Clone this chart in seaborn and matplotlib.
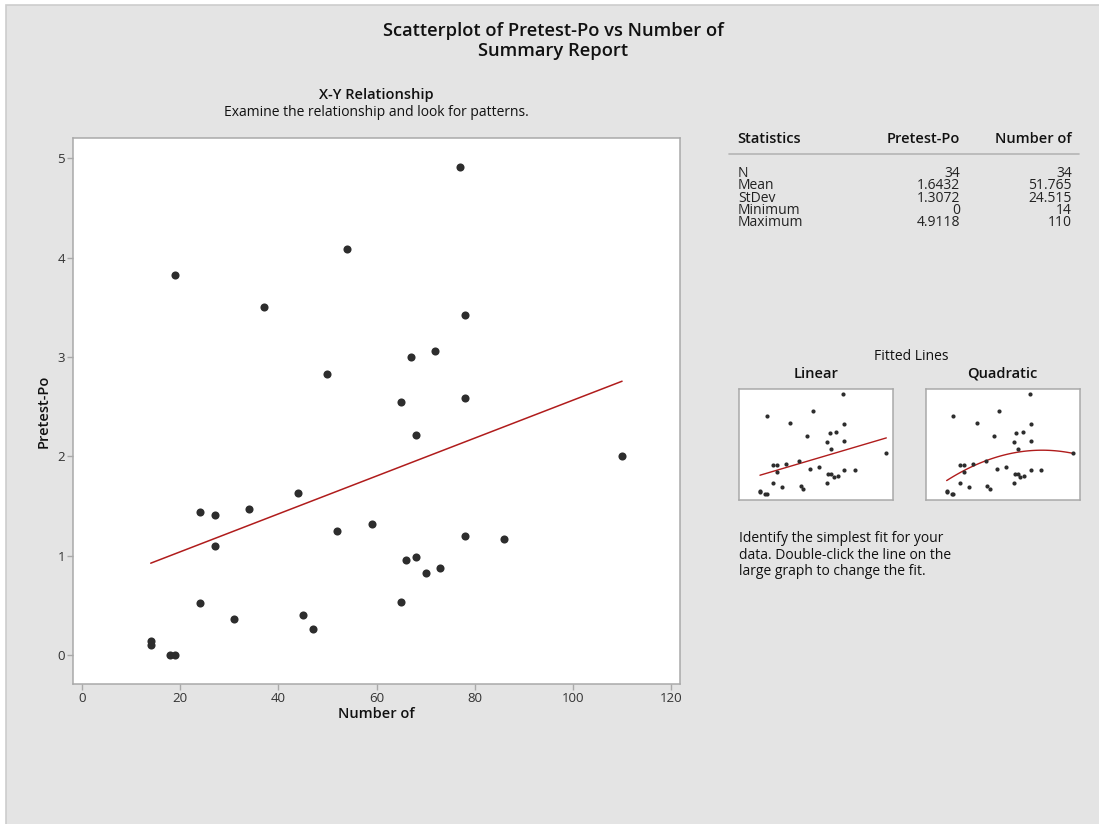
import matplotlib
matplotlib.use("Agg")
import matplotlib.pyplot as plt
import numpy as np
import pandas as pd
import seaborn as sns
from matplotlib.patches import Rectangle
from matplotlib.lines import Line2D

# Observations (34 subjects)
number_of = [19, 37, 54, 50, 77, 78, 67, 72, 65, 78,
             14, 14, 18, 19, 24, 27, 27, 24, 31, 34,
             44, 45, 47, 52, 59, 68, 110, 78, 86, 66,
             68, 70, 73, 65]
pretest_po = [3.82, 3.50, 4.09, 2.83, 4.9118, 3.42, 3.00, 3.06, 2.545, 2.585,
              0.147, 0.10, 0.0, 0.0, 1.445, 1.41, 1.097, 0.52, 0.365, 1.47,
              1.63, 0.40, 0.268, 1.247, 1.32, 2.216, 2.005, 1.197, 1.167, 0.962,
              0.992, 0.825, 0.875, 0.53]

# Descriptive statistics table
stat_names = ["N", "Mean", "StDev", "Minimum", "Maximum"]
pretest_stats = ["34", "1.6432", "1.3072", "0", "4.9118"]
number_stats = ["34", "51.765", "24.515", "14", "110"]

x_ticks = [0, 20, 40, 60, 80, 100, 120]
y_ticks = [0, 1, 2, 3, 4, 5]

df = pd.DataFrame({"Number of": number_of, "Pretest-Po": pretest_po})

sns.set_theme(style="white")
plt.rcParams["font.family"] = ["Open Sans", "DejaVu Sans"]

W, H = 1099, 824
fig = plt.figure(figsize=(W / 100, H / 100), dpi=100, facecolor="white")


def fx(x):
    return x / W


def fy(y):
    return 1 - y / H


# report panel background (framed on the left and top edges)
fig.patches.append(Rectangle((fx(6), -0.05), 1.0, fy(5) + 0.05, transform=fig.transFigure,
                             facecolor="#e4e4e4", edgecolor="#cdcdcd", lw=1.2, zorder=-10))

DOT = "#2d2d2d"
FIT = "#b01c1c"
SPINE = "#a9a9a9"
TXT = "#111111"


def style_box(ax):
    ax.set_facecolor("white")
    for sp in ax.spines.values():
        sp.set_color(SPINE)
        sp.set_linewidth(1.1)


# ---- main scatterplot ----
ax = fig.add_axes([fx(73.3), fy(684), fx(680) - fx(73.3), fy(138.3) - fy(684)])
style_box(ax)
sns.scatterplot(data=df, x="Number of", y="Pretest-Po", ax=ax, color=DOT,
                s=34, linewidth=0, zorder=3)
sns.regplot(data=df, x="Number of", y="Pretest-Po", ax=ax, scatter=False, ci=None,
            truncate=True, line_kws=dict(color=FIT, lw=1.1))
ax.set_xlim(-1.77, 121.8)
ax.set_ylim(-0.29, 5.2)
ax.set_xticks(x_ticks)
ax.set_yticks(y_ticks)
ax.tick_params(axis="both", direction="out", length=4, width=1, color=SPINE,
               labelcolor="#333333", labelsize=9.5, pad=2, bottom=True, left=True)
ax.set_xlabel("Number of", fontsize=10.5, fontweight="semibold", color=TXT, labelpad=1.5)
ax.set_ylabel("Pretest-Po", fontsize=10.5, fontweight="semibold", color=TXT, labelpad=5)

# ---- titles ----
fig.text(fx(553.5), fy(31), "Scatterplot of Pretest-Po vs Number of", ha="center", va="center",
         fontsize=13.2, fontweight="semibold", color=TXT)
fig.text(fx(553.5), fy(51), "Summary Report", ha="center", va="center",
         fontsize=13.2, fontweight="semibold", color=TXT)
fig.text(fx(376.7), fy(95), "X-Y Relationship", ha="center", va="center",
         fontsize=10.5, fontweight="semibold", color=TXT)
fig.text(fx(376.7), fy(113), "Examine the relationship and look for patterns.", ha="center",
         va="center", fontsize=10, color=TXT)

# ---- statistics table ----
fig.text(fx(737), fy(139), "Statistics", ha="left", va="center", fontsize=10.5,
         fontweight="semibold", color=TXT)
fig.text(fx(960), fy(139), "Pretest-Po", ha="right", va="center", fontsize=10.5,
         fontweight="semibold", color=TXT)
fig.text(fx(1072), fy(139), "Number of", ha="right", va="center", fontsize=10.5,
         fontweight="semibold", color=TXT)
fig.add_artist(Line2D([fx(729), fx(1079)], [fy(153.5), fy(153.5)], color="#b5b5b5", lw=1.2))

# each column is one tightly spaced text block
table_top = 166
for col, xpos, ha in [(stat_names, 738, "left"), (pretest_stats, 960, "right"),
                      (number_stats, 1072, "right")]:
    fig.text(fx(xpos), fy(table_top), "\n".join(col), ha=ha, va="top", multialignment=ha,
             fontsize=10, color="#222222", linespacing=0.75)

# ---- fitted line previews ----
fig.text(fx(911), fy(356), "Fitted Lines", ha="center", va="center", fontsize=10, color=TXT)
fig.text(fx(816), fy(374), "Linear", ha="center", va="center", fontsize=10.5,
         fontweight="semibold", color=TXT)
fig.text(fx(1002), fy(374), "Quadratic", ha="center", va="center", fontsize=10.5,
         fontweight="semibold", color=TXT)

for left, order in [(739.3, 1), (926, 2)]:
    mx = fig.add_axes([fx(left), fy(500), fx(left + 154) - fx(left), fy(388.7) - fy(500)])
    style_box(mx)
    sns.scatterplot(data=df, x="Number of", y="Pretest-Po", ax=mx, color=DOT,
                    s=9, linewidth=0, zorder=3)
    sns.regplot(data=df, x="Number of", y="Pretest-Po", ax=mx, scatter=False, ci=None,
                order=order, truncate=True, line_kws=dict(color=FIT, lw=1))
    mx.set_xlim(-1.7, 115.3)
    mx.set_ylim(-0.29, 5.17)
    mx.set_xticks([])
    mx.set_yticks([])
    mx.set_xlabel("")
    mx.set_ylabel("")

note = ["Identify the simplest fit for your",
        "data. Double-click the line on the",
        "large graph to change the fit."]
fig.text(fx(739), fy(531), "\n".join(note), ha="left", va="top", fontsize=10,
         color=TXT, linespacing=1.15)

fig.savefig("out.png", dpi=100, facecolor="white")
